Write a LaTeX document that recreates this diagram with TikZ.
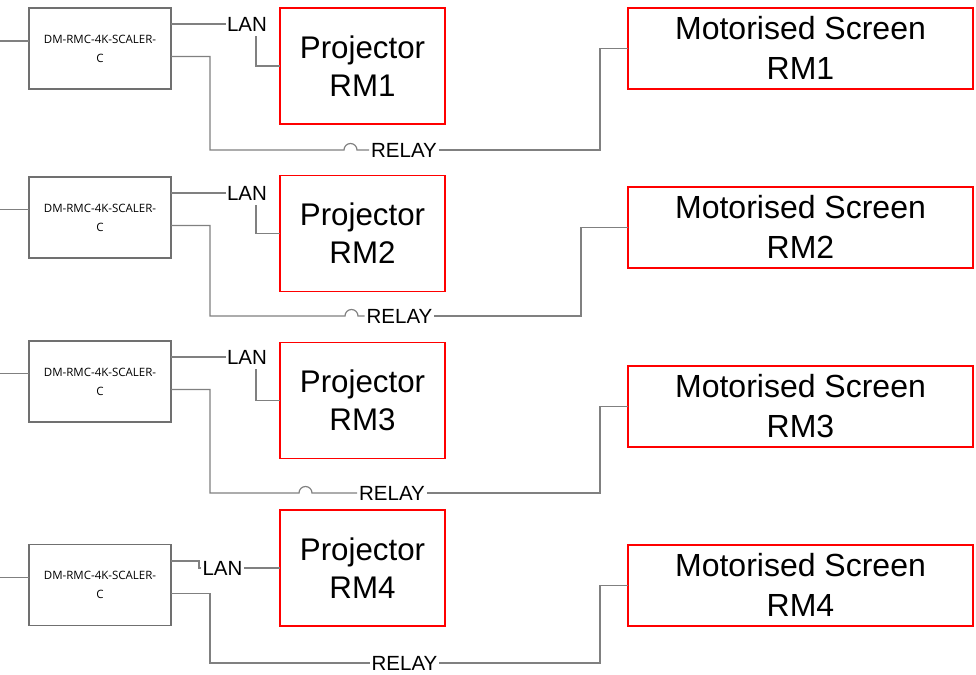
\documentclass[tikz,border=0pt]{standalone}
\usepackage{fontspec}
\setmainfont{Liberation Sans}
\newfontfamily\scalerfont{Open Sans}
\usetikzlibrary{calc}

\definecolor{wire}{HTML}{808080}
\definecolor{boxedge}{HTML}{707070}
\definecolor{devred}{HTML}{FF0000}

\tikzset{
  scaler/.style={draw=boxedge, line width=1.6pt, minimum width=142pt,
    minimum height=81pt, inner sep=0pt, outer sep=0pt, align=center,
    font=\scalerfont\fontsize{11.5}{19}\selectfont},
  projbox/.style={draw=devred, line width=1.5pt, minimum width=165pt,
    minimum height=116pt, inner sep=0pt, outer sep=0pt},
  screenbox/.style={draw=devred, line width=1.5pt, minimum width=345pt,
    minimum height=81pt, inner sep=0pt, outer sep=0pt},
  projtext/.style={font=\fontsize{31.3}{38}\selectfont, align=center},
  screentext/.style={font=\fontsize{32}{39.5}\selectfont, align=center, yshift=0.5pt},
  sigtag/.style={font=\fontsize{20.5}{24}\selectfont, inner xsep=1.5pt,
    inner ysep=0pt, outer sep=0pt},
  wireline/.style={draw=wire, line width=1.2pt},
}

\begin{document}
\begin{tikzpicture}[x=1pt, y=-1pt]
\useasboundingbox (0,0) rectangle (976,674);

% ---------- Room 1 ----------
\node[scaler] (sc1) at (100,48.5) {DM-RMC-4K-SCALER-\\C};
\node[projbox, label={[name=pr1t, projtext]center:Projector\\RM1}] (pr1) at (362.5,66) {};
\node[screenbox, label={[name=scr1t, screentext]center:Motorised Screen\\RM1}] (scr1) at (800.5,48.5) {};
\node[sigtag] (lan1) at (247,24) {LAN};
\node[sigtag, inner xsep=2pt] (rl1) at (404,150) {RELAY};
\coordinate (in1) at (0,41);
\draw[wireline] (in1) -- (in1 -| sc1.west);
\draw[wireline] ($(sc1.north east)+(0,16)$) -- (lan1.west);
\draw[wireline] ($(lan1.south)+(9,5)$) |- (pr1.west);
\draw[wireline] ($(sc1.north east)+(0,48.5)$) -| (210,150) -- (344,150)
  arc[start angle=180, end angle=0, radius=6.5pt] -- (rl1.west);
\draw[wireline] (rl1.east) -| ($(scr1.west)+(-28,0)$) -- (scr1.west);

% ---------- Room 2 ----------
\node[scaler] (sc2) at (100,217.5) {DM-RMC-4K-SCALER-\\C};
\node[projbox, label={[name=pr2t, projtext]center:Projector\\RM2}] (pr2) at (362.5,233.5) {};
\node[screenbox, label={[name=scr2t, screentext]center:Motorised Screen\\RM2}] (scr2) at (800.5,227.5) {};
\node[sigtag] (lan2) at (247,193) {LAN};
\node[sigtag, inner xsep=2pt] (rl2) at (399.5,316) {RELAY};
\coordinate (in2) at (0,209.5);
\draw[wireline] (in2) -- (in2 -| sc2.west);
\draw[wireline] ($(sc2.north east)+(0,16)$) -- (lan2.west);
\draw[wireline] ($(lan2.south)+(9,5)$) |- (pr2.west);
\draw[wireline] ($(sc2.north east)+(0,48.5)$) -| (210,316) -- (345,316)
  arc[start angle=180, end angle=0, radius=6.5pt] -- (rl2.west);
\draw[wireline] (rl2.east) -| ($(scr2.west)+(-47,0)$) -- (scr2.west);

% ---------- Room 3 ----------
\node[scaler] (sc3) at (100,381.5) {DM-RMC-4K-SCALER-\\C};
\node[projbox, label={[name=pr3t, projtext]center:Projector\\RM3}] (pr3) at (362.5,400.5) {};
\node[screenbox, label={[name=scr3t, screentext]center:Motorised Screen\\RM3}] (scr3) at (800.5,406.5) {};
\node[sigtag] (lan3) at (247,357) {LAN};
\node[sigtag, inner xsep=2pt] (rl3) at (392,493) {RELAY};
\coordinate (in3) at (0,373.5);
\draw[wireline] (in3) -- (in3 -| sc3.west);
\draw[wireline] ($(sc3.north east)+(0,16)$) -- (lan3.west);
\draw[wireline] ($(lan3.south)+(9,5)$) |- (pr3.west);
\draw[wireline] ($(sc3.north east)+(0,48.5)$) -| (210,493) -- (299,493)
  arc[start angle=180, end angle=0, radius=6.5pt] -- (rl3.west);
\draw[wireline] (rl3.east) -| ($(scr3.west)+(-28,0)$) -- (scr3.west);

% ---------- Room 4 ----------
\node[scaler] (sc4) at (100,585) {DM-RMC-4K-SCALER-\\C};
\node[projbox, label={[name=pr4t, projtext]center:Projector\\RM4}] (pr4) at (362.5,568) {};
\node[screenbox, label={[name=scr4t, screentext]center:Motorised Screen\\RM4}] (scr4) at (800.5,585.5) {};
\node[sigtag] (lan4) at (222.5,568) {LAN};
\node[sigtag, inner xsep=2pt] (rl4) at (404.5,663) {RELAY};
\coordinate (in4) at (0,577.5);
\draw[wireline] (in4) -- (in4 -| sc4.west);
\draw[wireline] ($(sc4.north east)+(0,16.5)$) -| (199,568) -- (lan4.west);
\draw[wireline] (lan4.east) -- (pr4.west);
\draw[wireline] ($(sc4.north east)+(0,49)$) -| (210,663) -- (rl4.west);
\draw[wireline] (rl4.east) -| ($(scr4.west)+(-28,0)$) -- (scr4.west);
\end{tikzpicture}
\end{document}
